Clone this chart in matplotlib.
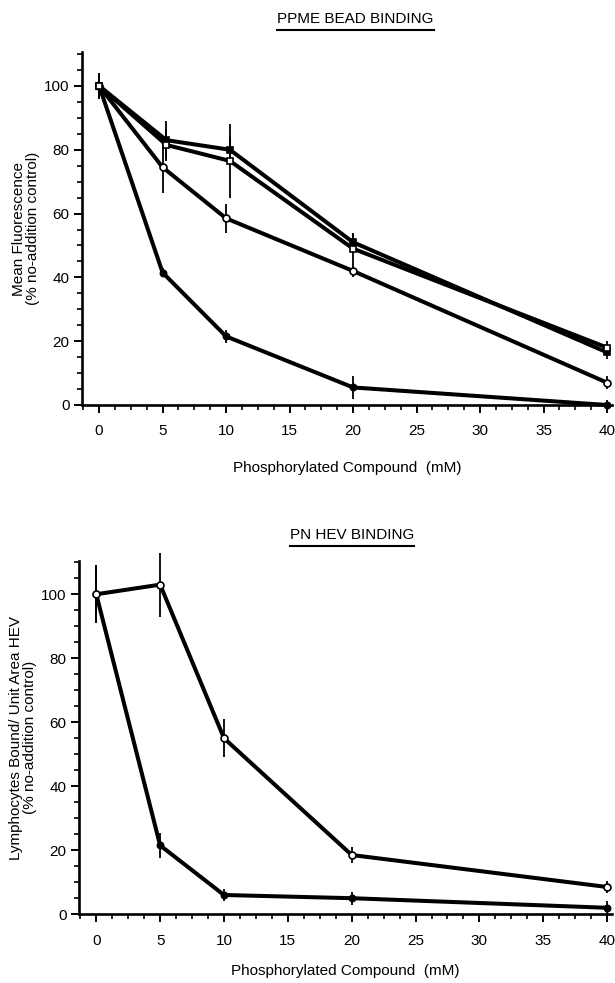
import matplotlib
matplotlib.use("Agg")
import matplotlib.pyplot as plt
from matplotlib.ticker import MultipleLocator
from matplotlib.lines import Line2D

plt.rcParams['font.family'] = ['Liberation Sans', 'DejaVu Sans']

# --- PPME bead binding (top panel) ---
top_x = [0, 5, 10, 20, 40]
top_x_sq = [0, 5.3, 10.3, 20, 40]
top_filled_sq = [100, 83, 80, 51, 16.5]
top_filled_sq_err = [4, 6, 4, 2.5, 2]
top_open_sq = [100, 81.5, 76.5, 49, 18]
top_open_sq_err = [4, 5, 11.5, 5, 2]
top_open_circ = [100, 74.5, 58.5, 42, 7]
top_open_circ_err = [4, 8, 4.5, 2, 2]
top_filled_circ = [100, 41.5, 21.5, 5.5, 0]
top_filled_circ_err = [4, 1.5, 2, 3.5, 1.5]

# --- PN HEV binding (bottom panel) ---
bot_x = [0, 5, 10, 20, 40]
bot_open_circ = [100, 103, 55, 18.5, 8.5]
bot_open_circ_err = [9, 10, 6, 2.5, 2]
bot_filled_circ = [100, 21.5, 6, 5, 2]
bot_filled_circ_err = [9, 4, 2, 2, 2]

x_ticks = [0, 5, 10, 15, 20, 25, 30, 35, 40]
y_ticks = [0, 20, 40, 60, 80, 100]

LW = 2.9
FS = 11


def style_axes(ax, ytop, xpad):
    ax.set_xlim(-1.35, 40.4)
    ax.set_ylim(0, ytop)
    for s in ['top', 'right']:
        ax.spines[s].set_visible(False)
    for s in ['left', 'bottom']:
        ax.spines[s].set_linewidth(1.9)
    ax.set_xticks(x_ticks)
    ax.set_yticks(y_ticks)
    ax.xaxis.set_minor_locator(MultipleLocator(1.25))
    ax.yaxis.set_minor_locator(MultipleLocator(5))
    ax.tick_params(which='major', direction='out', length=6, width=1.4, labelsize=FS)
    ax.tick_params(axis='x', which='major', pad=8)
    ax.tick_params(axis='y', which='major', pad=3)
    ax.tick_params(which='minor', direction='out', length=3.5, width=1.2)
    ax.set_xlabel('Phosphorylated Compound  (mM)', fontsize=FS, labelpad=xpad)


def draw_series(ax, x, y, err, marker, face, ms=5):
    ax.errorbar(x, y, yerr=err, fmt='none', ecolor='black', elinewidth=1.3, capsize=0, clip_on=False, zorder=2)
    ax.plot(x, y, color='black', lw=LW, marker=marker, ms=ms, mfc=face, mec='black', mew=1.2,
            clip_on=False, zorder=3)


def underlined_title(fig, text, x, y):
    t = fig.text(x, y, text, ha='center', va='baseline', fontsize=FS)
    fig.canvas.draw()
    bb = t.get_window_extent().transformed(fig.transFigure.inverted())
    fig.add_artist(Line2D([bb.x0, bb.x1], [y - 0.007, y - 0.007], color='black', lw=1.5,
                          transform=fig.transFigure))


fig = plt.figure(figsize=(6.15, 9.83), dpi=100)

ax1 = fig.add_axes([0.1333, 0.588, 0.862, 0.359])
style_axes(ax1, 110.6, 16)
draw_series(ax1, top_x, top_filled_circ, top_filled_circ_err, 'o', 'black', 4.5)
draw_series(ax1, top_x, top_open_circ, top_open_circ_err, 'o', 'white')
draw_series(ax1, top_x_sq, top_filled_sq, top_filled_sq_err, 's', 'black')
draw_series(ax1, top_x_sq, top_open_sq, top_open_sq_err, 's', 'white')
ax1.set_ylabel('Mean Fluorescence\n(% no-addition control)', fontsize=FS, labelpad=3, linespacing=1.0)

ax2 = fig.add_axes([0.1285, 0.070, 0.867, 0.359])
style_axes(ax2, 110.3, 12)
draw_series(ax2, bot_x, bot_filled_circ, bot_filled_circ_err, 'o', 'black', 4.5)
draw_series(ax2, bot_x, bot_open_circ, bot_open_circ_err, 'o', 'white')
ax2.set_ylabel('Lymphocytes Bound/ Unit Area HEV\n(% no-addition control)', fontsize=FS, labelpad=3,
               linespacing=1.0)

underlined_title(fig, 'PPME BEAD BINDING', 0.578, 1 - 23 / 983)
underlined_title(fig, 'PN HEV BINDING', 0.572, 1 - 539 / 983)

fig.savefig('out.png', dpi=100)
